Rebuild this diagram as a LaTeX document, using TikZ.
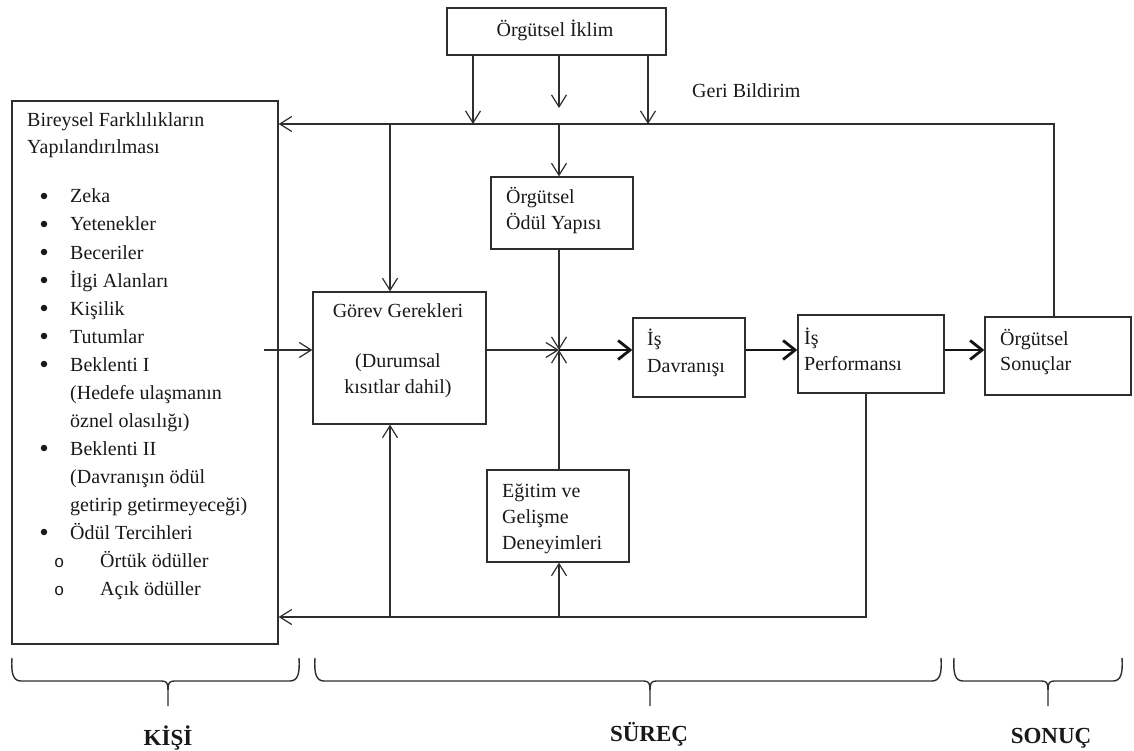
\documentclass[tikz,border=0pt]{standalone}
\usepackage{fontspec}
\setmainfont{Liberation Serif}
\newfontfamily\monofam{Liberation Mono}
\usetikzlibrary{arrows.meta}
\definecolor{ink}{gray}{0.18}
\begin{document}
\begin{tikzpicture}[x=1pt,y=-1pt,
  box/.style={draw=ink, line width=1.3pt, inner sep=0pt, rectangle},
  txt/.style={anchor=base west, inner sep=0pt, font=\fontsize{20}{26}\selectfont, text=black!90},
  ctxt/.style={txt, anchor=base},
  bul/.style={circle, fill=black!90, inner sep=0pt, minimum size=6.5pt},
  conn/.style={draw=ink, line width=1.2pt, -{Straight Barb[length=12pt,width=15pt]}},
  thk/.style={draw=black!92, line width=2.8pt, -{Straight Barb[length=12pt,width=19pt]}},
  brk/.style={draw=ink, line width=1.4pt},
  lbl/.style={anchor=base, inner sep=0pt, font=\fontsize{23}{23}\selectfont\bfseries, text=black!90},
]
\useasboundingbox (0,0) rectangle (1134,751);

% ---------- boxes ----------
\node[box, minimum width=266pt, minimum height=543pt] (kisi)     at (145,372.5) {};
\node[box, minimum width=219pt, minimum height=47pt]  (iklim)    at (556.5,31.5) {};
\node[box, minimum width=173pt, minimum height=132pt] (gorev)    at (399.5,358) {};
\node[box, minimum width=142pt, minimum height=72pt]  (odul)     at (562,213) {};
\node[box, minimum width=142pt, minimum height=92pt]  (egitim)   at (558,516) {};
\node[box, minimum width=112pt, minimum height=79pt]  (davranis) at (689,357.5) {};
\node[box, minimum width=146pt, minimum height=78pt]  (perf)     at (871,354) {};
\node[box, minimum width=146pt, minimum height=78pt]  (sonuc)    at (1058,356) {};

% ---------- box texts ----------
\node[ctxt] (iklimT) at (555,37) {Örgütsel İklim};
\node[txt] (geri) at (692,98) {Geri Bildirim};

\node[txt] (kT1) at (27,127) {Bireysel Farklılıkların};
\node[txt] (kT2) at (27,154) {Yapılandırılması};
\foreach \i/\s in {0/Zeka,1/Yetenekler,2/Beceriler,3/İlgi Alanları,4/Kişilik,
                   5/Tutumlar,6/Beklenti I,9/Beklenti II,12/Ödül Tercihleri}{
  \node[bul] (dot\i) at (44,196+28*\i) {};
  \node[txt] (item\i) at (70,203+28*\i) {\s};
}
\foreach \i/\s in {7/(Hedefe ulaşmanın,8/öznel olasılığı),10/(Davranışın ödül,11/getirip getirmeyeceği)}{
  \node[txt] (item\i) at (70,203+28*\i) {\s};
}
\foreach \i/\s in {13/Örtük ödüller,14/Açık ödüller}{
  \node[txt, font=\fontsize{17}{17}\monofam] (circ\i) at (54,203+28*\i) {o};
  \node[txt] (item\i) at (100,203+28*\i) {\s};
}

\node[ctxt] (g1) at (398,317) {Görev Gerekleri};
\node[ctxt] (g2) at (398,367) {(Durumsal};
\node[ctxt] (g3) at (398,393) {kısıtlar dahil)};

\node[txt] (o1) at (506,204) {Örgütsel};
\node[txt] (o2) at (506,230) {Ödül Yapısı};

\node[txt] (e1) at (502,497) {Eğitim ve};
\node[txt] (e2) at (502,523) {Gelişme};
\node[txt] (e3) at (502,549) {Deneyimleri};

\node[txt] (d1) at (647,345) {İş};
\node[txt] (d2) at (647,372) {Davranışı};

\node[txt] (p1) at (804,344) {İş};
\node[txt] (p2) at (804,370) {Performansı};

\node[txt] (s1) at (1000,345) {Örgütsel};
\node[txt] (s2) at (1000,370) {Sonuçlar};

% ---------- routing points ----------
\coordinate (j)  at (559,350);
\coordinate (c1) at (473,124);
\coordinate (c2) at (559,108);
\coordinate (c3) at (648,124);
\coordinate (fb) at (1054,124);
\coordinate (f1) at (390,124);
\coordinate (f2) at (559,124);
\coordinate (b0) at (866,617);
\coordinate (b1) at (390,617);
\coordinate (b2) at (559,617);

% ---------- climate arrows ----------
\draw[conn] (iklim.south -| c1) -- (c1);
\draw[conn] (iklim.south -| c2) -- (c2);
\draw[conn] (iklim.south -| c3) -- (c3);

% ---------- feedback loop (top) ----------
\draw[conn] (sonuc.north -| fb) -- (fb) -- (fb -| kisi.east);
\draw[conn] (f1) -- (f1 |- gorev.north);
\draw[conn] (f2) -- (f2 |- odul.north);

% ---------- feedback loop (bottom) ----------
\draw[conn] (perf.south -| b0) -- (b0) -- (b0 -| kisi.east);
\draw[conn] (b1) -- (b1 |- gorev.south);
\draw[conn] (b2) -- (b2 |- egitim.south);

% ---------- inputs to the junction ----------
\draw[conn] ([xshift=-15pt]kisi.east |- j) -- (j -| gorev.west);
\draw[conn] (j -| gorev.east) -- (j);
\draw[conn] (odul.south -| j) -- (j);
\draw[conn] (egitim.north -| j) -- (j);

% ---------- main chain ----------
\draw[thk] (j) -- (j -| davranis.west);
\draw[thk] (j -| davranis.east) -- (j -| perf.west);
\draw[thk] (j -| perf.east) -- (j -| sonuc.west);

% ---------- group brackets ----------
\newcommand\drawbrk[3]{%
  \draw[brk] (#1,658) .. controls (#1-1,673) and (#1+1,681) .. (#1+9,681)
     -- (#2-6,681) .. controls (#2-1,681) and (#2,684) .. (#2,690) -- (#2,706);
  \draw[brk] (#2,690) .. controls (#2,684) and (#2+1,681) .. (#2+6,681)
     -- (#3-9,681) .. controls (#3-1,681) and (#3+1,673) .. (#3,658);
}
\drawbrk{12}{168}{299}
\drawbrk{315}{650}{941}
\drawbrk{954}{1048}{1122}

\node[lbl] (kisiL)  at (168,745) {KİŞİ};
\node[lbl] (surecL) at (649,741) {SÜREÇ};
\node[lbl] (sonucL) at (1051,743) {SONUÇ};
\end{tikzpicture}
\end{document}
